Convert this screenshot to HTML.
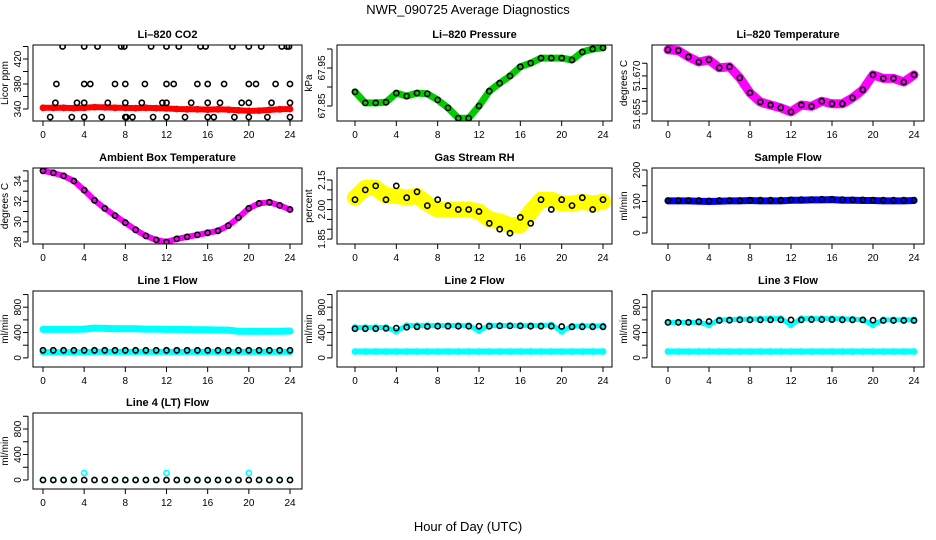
<!DOCTYPE html>
<html><head><meta charset="utf-8"><style>
html,body{margin:0;padding:0;background:#fff;}
svg{display:block;font-family:"Liberation Sans",sans-serif;}
</style></head><body>
<svg id="chart" width="936" height="540" viewBox="0 0 936 540">
<text x="468" y="14" text-anchor="middle" font-size="13">NWR_090725  Average Diagnostics</text>
<text x="468" y="531" text-anchor="middle" font-size="13">Hour of Day (UTC)</text>
</svg>
<script>
// ---- data ----
const hours = [0,1,2,3,4,5,6,7,8,9,10,11,12,13,14,15,16,17,18,19,20,21,22,23,24];
const xTicks = [0,4,8,12,16,20,24];

const co2Red = [342,342,342,341.5,342,343,342.5,342,342,341.5,342,341.5,341,340,339.5,339.5,339,339.5,339,338,337,337.5,338.5,339.5,340];
const co2BlackHours = [1.9,4.0,5.3,7.6,7.9,10.5,12.0,13.2,15.3,15.8,18.4,20.0,21.2,23.2,23.7,23.9,
  1.3,4.0,4.6,7.0,8.0,9.9,12.0,12.7,15.0,16.0,17.6,20.0,20.7,22.6,24.0,
  1.2,3.3,4.0,6.3,8.0,9.6,11.6,12.0,14.4,16.0,17.2,19.3,20.0,22.2,24.0,
  0.7,2.8,4.0,5.7,8.0,8.1,8.7,10.7,12.0,13.8,16.0,16.6,18.6,20.0,21.8,24.0];
const co2BlackVals = [440,440,440,440,440,440,440,440,440,440,440,440,440,440,440,440,
  380,380,380,380,380,380,380,380,380,380,380,380,380,380,380,
  350,350,350,350,350,350,350,350,350,350,350,350,350,350,350,
  327,327,327,327,327,327,327,327,327,327,327,327,327,327,327,327];

const pressure = [67.887,67.858,67.858,67.860,67.884,67.876,67.884,67.882,67.866,67.845,67.818,67.818,67.850,67.889,67.910,67.929,67.953,67.963,67.976,67.976,67.976,67.971,67.992,68.000,68.003];
const liTemp = [51.6803,51.680,51.6775,51.6755,51.6763,51.6732,51.6736,51.6692,51.6633,51.6597,51.6585,51.6574,51.6558,51.6585,51.658,51.660,51.659,51.659,51.6613,51.6645,51.6704,51.669,51.669,51.6676,51.6704];
const ambient = [35.0,34.8,34.5,34.0,33.1,32.1,31.3,30.6,29.9,29.2,28.6,28.2,28.0,28.3,28.5,28.7,28.9,29.1,29.6,30.4,31.3,31.8,31.9,31.6,31.2];
const rhYellow = [2.06,2.11,2.11,2.07,2.07,2.06,2.07,2.03,2.00,2.00,2.00,2.00,1.99,1.95,1.94,1.92,1.92,1.99,2.05,2.05,2.03,2.03,2.04,2.03,2.04];
const rhBlack = [2.05,2.10,2.12,2.05,2.12,2.06,2.09,2.02,2.05,2.02,2.00,2.00,1.99,1.93,1.90,1.88,1.96,1.93,2.05,2.00,2.05,2.02,2.06,2.00,2.05];
const sampleBlue = [102,102,102,101,100,101,102,102,103,102,102,102,104,104,105,105,106,104,104,103,103,102,102,102,103];
const sampleBlack = [103,103,103,103,102,103,103,103,104,104,104,104,105,106,106,107,107,106,105,105,104,104,104,104,104];
const line1Upper = [450,450,450,450,455,470,465,460,460,460,455,455,450,450,448,445,445,440,438,420,420,420,420,420,425];
const line1Lower = [90,90,90,90,92,95,95,95,95,95,95,95,95,95,95,95,95,95,95,95,95,95,95,95,95];
const line1Black = [120,120,120,120,120,120,120,120,120,120,120,120,120,120,120,120,120,120,120,120,120,120,120,120,120];
const line2Upper = [480,480,480,480,420,510,510,510,510,510,510,510,430,510,510,510,510,510,510,520,420,500,505,505,505];
const line2Lower = [100,100,100,100,100,100,100,100,100,100,100,100,100,100,100,100,100,100,100,100,100,100,100,100,100];
const line2Black = [460,460,460,465,470,485,490,495,500,500,500,500,500,500,505,505,505,500,500,500,495,490,490,490,490];
const line3Upper = [560,560,560,560,520,600,600,610,610,615,620,620,520,620,620,620,620,615,610,600,520,600,600,600,600];
const line3Lower = [100,100,100,100,100,100,100,100,100,100,100,100,100,100,100,100,100,100,100,100,100,100,100,100,100];
const line3Black = [560,560,560,570,575,590,595,600,600,600,600,600,600,600,605,605,605,600,600,600,595,590,590,590,590];
const line4Cyan = [0,0,0,0,110,0,0,0,0,0,0,0,110,0,0,0,0,0,0,0,110,0,0,0,0];
const line4Black = [0,0,0,0,0,0,0,0,0,0,0,0,0,0,0,0,0,0,0,0,0,0,0,0,0];

const flowTicks = [0,200,400,600,800,1000];
const flowLabels = [0,400,800];

// ---- layout ----
const cols = [{l:33,r:302,x0:43,x24:290},{l:337,r:612,x0:355,x24:603},{l:652,r:924,x0:668,x24:914}];
const rowTops = [45,168,291,413];
const boxH = 76;
const svg = document.getElementById('chart');
const NS = 'http://www.w3.org/2000/svg';
function mk(tag, attrs, parent){const e=document.createElementNS(NS,tag);for(const k in attrs)e.setAttribute(k,attrs[k]);(parent||svg).appendChild(e);return e;}

const panels = [
 {id:'co2',c:0,r:0,title:'Li-820 CO2',ylab:'Licor ppm',ymin:320.8,ymax:442.4,ticks:[340,360,380,400,420,440],labels:[340,380,420],fmt:v=>v,
  series:[{h:hours,v:co2Red,color:'#ff0000',band:6},{h:co2BlackHours,v:co2BlackVals,color:'#000',band:0}]},
 {id:'pressure',c:1,r:0,title:'Li-820 Pressure',ylab:'kPa',ymin:67.8105,ymax:68.0105,ticks:[67.85,67.90,67.95,68.00],labels:[67.85,67.95],fmt:v=>v.toFixed(2),
  series:[{h:hours,v:pressure,color:'#00cc00',band:7},{h:hours,v:pressure,color:'#000',band:0}]},
 {id:'li-temp',c:2,r:0,title:'Li-820 Temperature',ylab:'degrees C',ymin:51.6522,ymax:51.6822,ticks:[51.655,51.660,51.665,51.670,51.675],labels:[51.655,51.670],fmt:v=>v.toFixed(3),
  series:[{h:hours,v:liTemp,color:'#ff00ff',band:9},{h:hours,v:liTemp,color:'#000',band:0}]},
 {id:'ambient',c:0,r:1,title:'Ambient Box Temperature',ylab:'degrees C',ymin:27.80,ymax:35.28,ticks:[28,29,30,31,32,33,34,35],labels:[28,30,32,34],fmt:v=>v,
  series:[{h:hours,v:ambient,color:'#ff00ff',band:6},{h:hours,v:ambient,color:'#000',band:0}]},
 {id:'rh',c:1,r:1,title:'Gas Stream RH',ylab:'percent',ymin:1.825,ymax:2.211,ticks:[1.85,1.90,1.95,2.00,2.05,2.10,2.15],labels:[1.85,2.00,2.15],fmt:v=>v.toFixed(2),
  series:[{h:hours,v:rhYellow,color:'#ffff00',band:16},{h:hours,v:rhBlack,color:'#000',band:0}]},
 {id:'sample-flow',c:2,r:1,title:'Sample Flow',ylab:'ml/min',ymin:-34.9,ymax:206.3,ticks:[0,50,100,150,200],labels:[0,100,200],fmt:v=>v,
  series:[{h:hours,v:sampleBlue,color:'#0000ff',band:7},{h:hours,v:sampleBlack,color:'#000',band:0}]},
 {id:'line1-flow',c:0,r:2,title:'Line 1 Flow',ylab:'ml/min',ymin:-144,ymax:1056,ticks:flowTicks,labels:flowLabels,fmt:v=>v,
  series:[{h:hours,v:line1Upper,color:'#00ffff',band:7},{h:hours,v:line1Lower,color:'#00ffff',band:6},{h:hours,v:line1Black,color:'#000',band:0}]},
 {id:'line2-flow',c:1,r:2,title:'Line 2 Flow',ylab:'ml/min',ymin:-144,ymax:1056,ticks:flowTicks,labels:flowLabels,fmt:v=>v,
  series:[{h:hours,v:line2Upper,color:'#00ffff',band:5},{h:hours,v:line2Lower,color:'#00ffff',band:6},{h:hours,v:line2Black,color:'#000',band:0}]},
 {id:'line3-flow',c:2,r:2,title:'Line 3 Flow',ylab:'ml/min',ymin:-144,ymax:1056,ticks:flowTicks,labels:flowLabels,fmt:v=>v,
  series:[{h:hours,v:line3Upper,color:'#00ffff',band:5},{h:hours,v:line3Lower,color:'#00ffff',band:6},{h:hours,v:line3Black,color:'#000',band:0}]},
 {id:'line4-flow',c:0,r:3,title:'Line 4 (LT) Flow',ylab:'ml/min',ymin:-141,ymax:1051,ticks:flowTicks,labels:flowLabels,fmt:v=>v,
  series:[{h:hours,v:line4Cyan,color:'#00ffff',band:0},{h:hours,v:line4Black,color:'#000',band:0}]}
];

panels.forEach(p=>{
  const col=cols[p.c], top=rowTops[p.r], bot=top+boxH;
  const g=mk('g',{});
  
  
  const xs=h=>col.x0+(col.x24-col.x0)*h/24;
  const ys=v=>bot-(v-p.ymin)/(p.ymax-p.ymin)*boxH;
  const clip=mk('clipPath',{id:'clip-'+p.id},g);
  mk('rect',{x:col.l,y:top,width:col.r-col.l,height:boxH},clip);
  const pg=mk('g',{'clip-path':'url(#clip-'+p.id+')'},g);
  p.series.forEach((s,si)=>{
    const sg=mk('g',{},pg);
    
    
    if(s.band>0){
      const pts=s.h.map((h,i)=>xs(h).toFixed(1)+','+ys(s.v[i]).toFixed(1)).join(' ');
      const pl=mk('polyline',{points:pts,fill:'none',stroke:s.color,'stroke-width':s.band,'stroke-linejoin':'round','stroke-linecap':'round'},sg);
      
      
    }
    s.h.forEach((h,i)=>{
      const c=mk('circle',{cx:xs(h).toFixed(1),cy:ys(s.v[i]).toFixed(1),r:2.6,fill:'none',stroke:s.color,'stroke-width':1.6},sg);
      
      
    });
  });
  const box=mk('rect',{x:col.l,y:top,width:col.r-col.l,height:boxH,fill:'none',stroke:'#000','stroke-width':1},g);
  
  
  const t=mk('text',{x:(col.l+col.r)/2,y:top-7,'text-anchor':'middle','font-size':11,'font-weight':'bold'},g);
  t.textContent=p.title.replace('-','\u2013');
  
  
  const xa=mk('g',{},g);
  
  
  mk('line',{x1:xs(0),x2:xs(24),y1:bot,y2:bot,stroke:'#000'},xa);
  xTicks.forEach(v=>{
    mk('line',{x1:xs(v),x2:xs(v),y1:bot,y2:bot+5,stroke:'#000'},xa);
    const tl=mk('text',{x:xs(v),y:bot+17,'text-anchor':'middle','font-size':10},xa);
    tl.textContent=v;
    
    
  });
  const ya=mk('g',{},g);
  
  
  mk('line',{x1:col.l-5,x2:col.l-5,y1:ys(p.ticks[0]),y2:ys(p.ticks[p.ticks.length-1]),stroke:'#000'},ya);
  p.ticks.forEach(v=>{mk('line',{x1:col.l-5,x2:col.l-10,y1:ys(v),y2:ys(v),stroke:'#000'},ya);});
  p.labels.forEach(v=>{
    const y=ys(v), x=col.l-12;
    const tl=mk('text',{x:x,y:y,'text-anchor':'middle','font-size':10,transform:'rotate(-90 '+x+' '+y+')'},ya);
    tl.textContent=p.fmt(v);
    
    
  });
  const yx=col.l-25, yy=top+boxH/2;
  const yl=mk('text',{x:yx,y:yy,'text-anchor':'middle','font-size':10,transform:'rotate(-90 '+yx+' '+yy+')'},g);
  yl.textContent=p.ylab;
  
  
});
</script>
</body></html>
